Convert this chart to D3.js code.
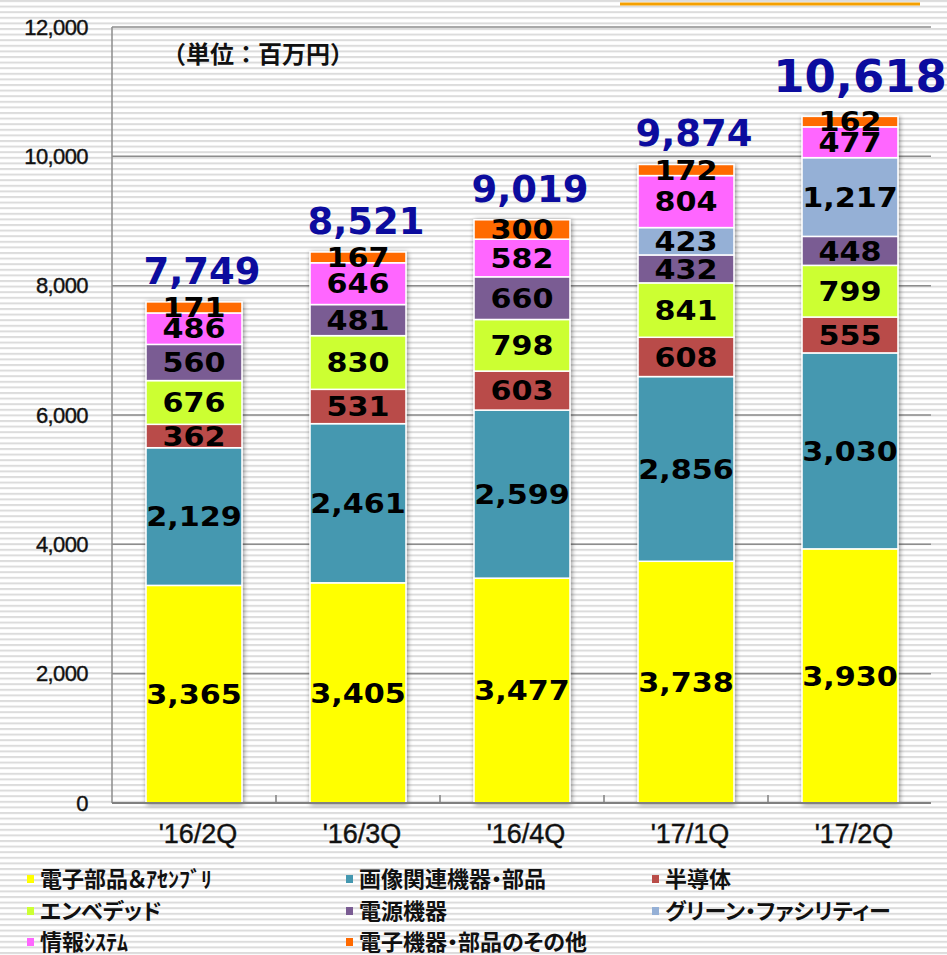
<!DOCTYPE html>
<html><head><meta charset="utf-8">
<script src="https://cdn.jsdelivr.net/npm/d3@7"></script>
<style>body{margin:0;background:#fff}svg{display:block}</style>
</head><body>
<script>
const categories = ["'16/2Q", "'16/3Q", "'16/4Q", "'17/1Q", "'17/2Q"];
const seriesNames = ["電子部品＆ｱｾﾝﾌﾞﾘ", "画像関連機器・部品", "半導体", "エンベデッド", "電源機器", "グリーン・ファシリティー", "情報ｼｽﾃﾑ", "電子機器・部品のその他"];
const electronicParts = [3365, 3405, 3477, 3738, 3930];
const imagingParts   = [2129, 2461, 2599, 2856, 3030];
const semiconductors = [362, 531, 603, 608, 555];
const embedded       = [676, 830, 798, 841, 799];
const powerSupply    = [560, 481, 660, 432, 448];
const greenFacility  = [0, 0, 0, 423, 1217];
const infoSystems    = [486, 646, 582, 804, 477];
const otherDevices   = [171, 167, 300, 172, 162];
const totals = [7749, 8521, 9019, 9874, 10618];
const yTicks = [0, 2000, 4000, 6000, 8000, 10000, 12000];
const colors = ["#ffff00", "#4498b0", "#b94c48", "#ccff33", "#7a5c93", "#95b0d6", "#ff66ff", "#ff6a00"];

const seriesValues = [electronicParts, imagingParts, semiconductors, embedded, powerSupply, greenFacility, infoSystems, otherDevices];
const W = 947, H = 955;
const svg = d3.select("body").append("svg").attr("width", W).attr("height", H);
const defs = svg.append("defs");
const pat = defs.append("pattern").attr("id", "stripes").attr("patternUnits", "userSpaceOnUse")
  .attr("width", 10).attr("height", 5.6);
pat.append("rect").attr("width", 10).attr("height", 5.6).attr("fill", "#ffffff");
pat.append("rect").attr("y", 0).attr("width", 10).attr("height", 2).attr("fill", "#dcdcdc");
const f = defs.append("filter").attr("id", "shadow").attr("x", "-20%").attr("y", "-5%").attr("width", "140%").attr("height", "110%");
f.append("feGaussianBlur").attr("in", "SourceAlpha").attr("stdDeviation", 2.5).attr("result", "b");
f.append("feOffset").attr("in", "b").attr("dx", 1).attr("dy", 1).attr("result", "o");
f.append("feComponentTransfer").attr("in", "o").attr("result", "s")
  .append("feFuncA").attr("type", "linear").attr("slope", 0.45);
const fm = f.append("feMerge");
fm.append("feMergeNode").attr("in", "s");
fm.append("feMergeNode").attr("in", "SourceGraphic");

svg.append("rect").attr("width", W).attr("height", H).attr("fill", "url(#stripes)");

// orange line at top
svg.append("line").attr("x1", 620).attr("x2", 920).attr("y1", 4).attr("y2", 4)
  .attr("stroke", "#f5a000").attr("stroke-width", 3);

const x = d3.scaleBand().domain(categories).range([112, 932]).paddingInner(0.415).paddingOuter(0.2075);
const y = d3.scaleLinear().domain([0, 12000]).range([803, 27]);

// gridlines
svg.append("g").selectAll("line").data(yTicks.filter(d => d > 0)).join("line")
  .attr("x1", 112).attr("x2", 931).attr("y1", d => y(d)).attr("y2", d => y(d))
  .attr("stroke", "#8c8c8c").attr("stroke-width", 1.5);
// left axis line
svg.append("line").attr("x1", 112).attr("x2", 112).attr("y1", y(12000)).attr("y2", y(0))
  .attr("stroke", "#8c8c8c").attr("stroke-width", 1.5);

// y tick labels
svg.append("g").selectAll("text").data(yTicks).join("text")
  .attr("x", 88).attr("y", d => y(d)).attr("dy", "0.35em").attr("text-anchor", "end")
  .attr("font-family", "Liberation Sans, Arial, sans-serif").attr("font-size", 22)
  .attr("letter-spacing", -0.6).attr("fill", "#111").attr("stroke", "#111").attr("stroke-width", 0.4)
  .text(d => d3.format(",")(d));

// unit label
svg.append("text").attr("x", 162).attr("y", 55).attr("dy", "0.35em")
  .attr("font-family", "Noto Sans CJK JP, sans-serif").attr("font-weight", "bold")
  .attr("font-size", 24).attr("fill", "#111")
  .text("（単位：百万円）");

// stacked data
const rows = categories.map((c, i) => {
  const r = {cat: c};
  seriesNames.forEach((s, k) => r[s] = seriesValues[k][i]);
  return r;
});
const stack = d3.stack().keys(seriesNames)(rows);

const barG = svg.append("g");
categories.forEach((c, i) => {
  const g = barG.append("g").attr("filter", "url(#shadow)");
  stack.forEach((layer, k) => {
    const d = layer[i];
    if (d[1] - d[0] <= 0) return;
    g.append("rect").attr("x", x(c)).attr("width", x.bandwidth())
      .attr("y", y(d[1])).attr("height", y(d[0]) - y(d[1]))
      .attr("fill", colors[k]).attr("stroke", "#fff").attr("stroke-width", 1.5);
  });
});

// x axis
svg.append("line").attr("x1", 112).attr("x2", 931).attr("y1", y(0)).attr("y2", y(0))
  .attr("stroke", "#808080").attr("stroke-width", 2);
svg.append("g").selectAll("line").data(categories.slice(1)).join("line")
  .attr("x1", d => x(d) - x.step() * x.paddingInner() / 2).attr("x2", d => x(d) - x.step() * x.paddingInner() / 2)
  .attr("y1", y(0) - 8).attr("y2", y(0)).attr("stroke", "#808080").attr("stroke-width", 1.5);
svg.append("g").selectAll("text").data(categories).join("text")
  .attr("x", d => x(d) + x.bandwidth() / 2 + 4).attr("y", 843).attr("text-anchor", "middle")
  .attr("font-family", "Liberation Sans, Arial, sans-serif").attr("font-size", 27)
  .attr("fill", "#111").attr("stroke", "#111").attr("stroke-width", 0.4).text(d => d);

// segment value labels
const labelG = svg.append("g");
categories.forEach((c, i) => {
  const cx = x(c) + x.bandwidth() / 2;
  stack.forEach((layer, k) => {
    const d = layer[i];
    const v = d[1] - d[0];
    if (v <= 0) return;
    const cy = y((d[0] + d[1]) / 2);
    labelG.append("text").attr("transform", `translate(${cx},${cy}) scale(1.12,1)`)
      .attr("dy", "0.36em").attr("text-anchor", "middle")
      .attr("font-family", "DejaVu Sans, Verdana, sans-serif").attr("font-weight", "bold")
      .attr("font-size", 27).attr("fill", "#000").text(d3.format(",")(v));
  });
});

// totals
svg.append("g").selectAll("text").data(totals).join("text")
  .attr("x", (d, i) => x(categories[i]) + x.bandwidth() / 2 + (i === 4 ? 10 : 8))
  .attr("y", (d, i) => y(d) - (i === 4 ? 24 : 18))
  .attr("text-anchor", "middle")
  .attr("font-family", "DejaVu Sans, Verdana, sans-serif").attr("font-weight", "bold")
  .attr("font-size", (d, i) => i === 4 ? 45 : 37).attr("fill", "#0c0c9e")
  .text(d => d3.format(",")(d));

// legend
const legX = [27, 346, 652];
const legY = [879, 911, 942];
const lg = svg.append("g");
seriesNames.forEach((s, k) => {
  const col = k % 3, row = Math.floor(k / 3);
  lg.append("rect").attr("x", legX[col]).attr("y", legY[row] - 4).attr("width", 7).attr("height", 8).attr("fill", colors[k]);
  lg.append("text").attr("x", legX[col] + 13).attr("y", legY[row]).attr("dy", "0.36em")
    .attr("font-family", "Noto Sans CJK JP, sans-serif").attr("font-weight", "bold")
    .style("font-feature-settings", "'palt' 1")
    .attr("font-size", 22).attr("fill", "#111").text(s);
});
</script>
</body></html>
